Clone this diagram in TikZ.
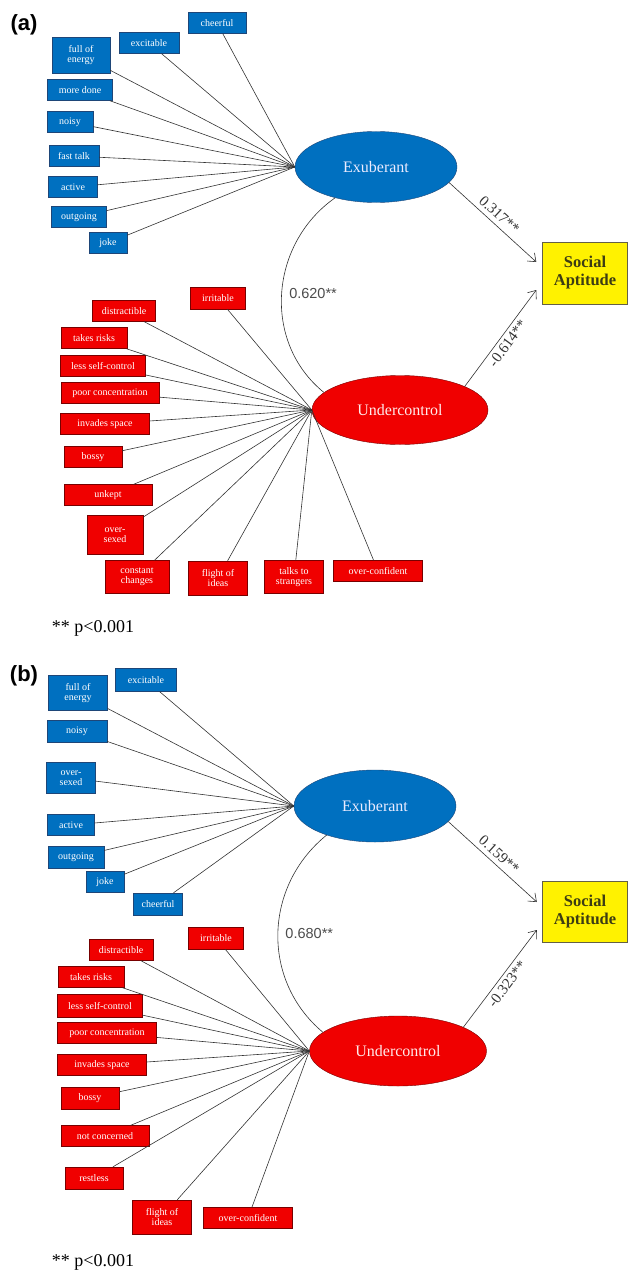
\documentclass[tikz,border=0pt]{standalone}
\usepackage{fontspec}
\setmainfont{Liberation Serif}
\newfontfamily\arialfont{Liberation Sans}
\usepackage{xcolor}
\usepackage{tikz}
\usetikzlibrary{shapes.geometric,arrows.meta}

\definecolor{exfill}{RGB}{0,112,192}
\definecolor{exline}{RGB}{30,70,120}
\definecolor{ucfill}{RGB}{240,0,0}
\definecolor{ucline}{RGB}{120,0,0}
\definecolor{satext}{RGB}{60,60,20}
\definecolor{linkgray}{RGB}{50,50,50}

\begin{document}
\begin{tikzpicture}[x=1pt, y=-1pt,
    exbox/.style={draw=exline, fill=exfill, text=white, font=\fontsize{10}{10.5}\selectfont, align=center, minimum height=21pt, inner sep=1pt},
    ucbox/.style={draw=ucline, fill=ucfill, text=white, font=\fontsize{10}{10.5}\selectfont, align=center, minimum height=21pt, inner sep=1pt},
    latent/.style={ellipse, draw, minimum width=162pt, minimum height=71pt, font=\fontsize{16}{18}\selectfont, inner sep=0pt},
    outcome/.style={draw=black!70!yellow, fill=yellow, text=satext, font=\fontsize{16.5}{18}\selectfont\bfseries, align=center, minimum width=85pt, minimum height=62pt},
    link/.style={draw=linkgray, line width=0.6pt},
    effect/.style={draw=linkgray, line width=0.6pt, -{Straight Barb[length=7pt,width=11pt]}},
    coef/.style={font=\fontsize{15}{16}\selectfont, text=black!80, inner sep=0.5pt},
    corr/.style={font=\arialfont\fontsize{14.5}{16}\selectfont, text=black!70},
    panel/.style={font=\arialfont\bfseries\fontsize{22}{24}\selectfont},
    note/.style={font=\fontsize{18}{20}\selectfont}]
    \useasboundingbox (0,0) rectangle (629,1276);

    % ---------------- Panel (a) ----------------
    \node[panel] (labA) at (24,25) {(a)};

    % Exuberant indicators
    \node[exbox, minimum width=58pt] (ea1) at (217,23) {cheerful};
    \node[exbox, minimum width=60pt] (ea2) at (149,43) {excitable};
    \node[exbox, minimum width=58pt, minimum height=36pt] (ea3) at (81,55) {full of\\energy};
    \node[exbox, minimum width=65pt] (ea4) at (80,90) {more done};
    \node[exbox, minimum width=46pt] (ea5) at (70,122) {noisy};
    \node[exbox, minimum width=50pt] (ea6) at (74,156) {fast talk};
    \node[exbox, minimum width=49pt] (ea7) at (73,187) {active};
    \node[exbox, minimum width=55pt] (ea8) at (79,217) {outgoing};
    \node[exbox, minimum width=38pt] (ea9) at (108,243) {joke};

    % Undercontrol indicators
    \node[ucbox, minimum width=55pt, minimum height=22pt] (ua1) at (218,298) {irritable};
    \node[ucbox, minimum width=63pt] (ua2) at (124,311) {distractible};
    \node[ucbox, minimum width=66pt] (ua3) at (94,338) {takes risks};
    \node[ucbox, minimum width=85pt] (ua4) at (103,366) {less self-control};
    \node[ucbox, minimum width=98pt] (ua5) at (110,393) {poor concentration};
    \node[ucbox, minimum width=89pt] (ua6) at (105,424) {invades space};
    \node[ucbox, minimum width=58pt] (ua7) at (93,457) {bossy};
    \node[ucbox, minimum width=88pt] (ua8) at (108,495) {unkept};
    \node[ucbox, minimum width=56pt, minimum height=39pt] (ua9) at (115,535) {over-\\sexed};
    \node[ucbox, minimum width=64pt, minimum height=33pt] (ua10) at (137,577) {constant\\changes};
    \node[ucbox, minimum width=59pt, minimum height=34pt] (ua11) at (218,578) {flight of\\ideas};
    \node[ucbox, minimum width=59pt, minimum height=33pt] (ua12) at (294,577) {talks to\\strangers};
    \node[ucbox, minimum width=89pt] (ua13) at (378,571) {over-confident};

    % Latent factors and outcome
    \node[latent, draw=exline, fill=exfill, text=blue!8] (exA) at (376,167) {Exuberant};
    \node[latent, draw=ucline, fill=ucfill, text=red!8, minimum width=176pt, minimum height=69pt] (ucA) at (400,410) {Undercontrol};
    \node[outcome] (saA) at (585,273) {Social\\Aptitude};

    % Loadings
    \draw[link] (ea1) -- (exA.west);
    \draw[link] (ea2) -- (exA.west);
    \draw[link] (ea3) -- (exA.west);
    \draw[link] (ea4) -- (exA.west);
    \draw[link] (ea5) -- (exA.west);
    \draw[link] (ea6) -- (exA.west);
    \draw[link] (ea7) -- (exA.west);
    \draw[link] (ea8) -- (exA.west);
    \draw[link] (ea9) -- (exA.west);
    \draw[link] (ua1) -- (ucA.west);
    \draw[link] (ua2) -- (ucA.west);
    \draw[link] (ua3) -- (ucA.west);
    \draw[link] (ua4) -- (ucA.west);
    \draw[link] (ua5) -- (ucA.west);
    \draw[link] (ua6) -- (ucA.west);
    \draw[link] (ua7) -- (ucA.west);
    \draw[link] (ua8) -- (ucA.west);
    \draw[link] (ua9) -- (ucA.west);
    \draw[link] (ua10) -- (ucA.west);
    \draw[link] (ua11) -- (ucA.west);
    \draw[link] (ua12) -- (ucA.west);
    \draw[link] (ua13) -- (ucA.west);

    % Correlation and paths
    \draw[link] (exA.217) to[out=215, in=141, looseness=1.05] node[corr, pos=0.5, right=4pt] (rA) {0.620**} (ucA.167);
    \draw[effect] (exA.-12) -- node[coef, sloped, above=4pt] (pA1) {0.317**} ([xshift=-6pt, yshift=11pt]saA.west);
    \draw[effect] (ucA.20) -- node[coef, sloped, below=3pt] (pA2) {-0.614**} ([xshift=-6pt, yshift=-17pt]saA.west);

    \node[note] (noteA) at (93,628) {** p<0.001};

    % ---------------- Panel (b) ----------------
    \node[panel] (labB) at (24,676) {(b)};

    % Exuberant indicators
    \node[exbox, minimum width=61pt, minimum height=23pt] (eb1) at (146,680) {excitable};
    \node[exbox, minimum width=59pt, minimum height=35pt] (eb2) at (78,693) {full of\\energy};
    \node[exbox, minimum width=60pt, minimum height=22pt] (eb3) at (77,731) {noisy};
    \node[exbox, minimum width=49pt, minimum height=31pt] (eb4) at (71,778) {over-\\sexed};
    \node[exbox, minimum width=47pt] (eb5) at (71,825) {active};
    \node[exbox, minimum width=56pt, minimum height=22pt] (eb6) at (76,857) {outgoing};
    \node[exbox, minimum width=38pt] (eb7) at (105,882) {joke};
    \node[exbox, minimum width=49pt, minimum height=22pt] (eb8) at (158,904) {cheerful};

    % Undercontrol indicators
    \node[ucbox, minimum width=55pt, minimum height=22pt] (ub1) at (216,938) {irritable};
    \node[ucbox, minimum width=64pt] (ub2) at (121,950) {distractible};
    \node[ucbox, minimum width=66pt] (ub3) at (91,977) {takes risks};
    \node[ucbox, minimum width=85pt, minimum height=23pt] (ub4) at (100,1006) {less self-control};
    \node[ucbox, minimum width=99pt] (ub5) at (107,1033) {poor concentration};
    \node[ucbox, minimum width=89pt] (ub6) at (102,1065) {invades space};
    \node[ucbox, minimum width=58pt, minimum height=22pt] (ub7) at (90,1098) {bossy};
    \node[ucbox, minimum width=88pt] (ub8) at (105,1136) {not concerned};
    \node[ucbox, minimum width=58pt, minimum height=22pt] (ub9) at (94,1178) {restless};
    \node[ucbox, minimum width=59pt, minimum height=34pt] (ub10) at (162,1217) {flight of\\ideas};
    \node[ucbox, minimum width=89pt] (ub11) at (248,1218) {over-confident};

    % Latent factors and outcome
    \node[latent, draw=exline, fill=exfill, text=blue!8, minimum height=72pt] (exB) at (375,806) {Exuberant};
    \node[latent, draw=ucline, fill=ucfill, text=red!8, minimum width=177pt, minimum height=70pt] (ucB) at (398,1051) {Undercontrol};
    \node[outcome, minimum height=61pt] (saB) at (585,912) {Social\\Aptitude};

    % Loadings
    \draw[link] (eb1) -- (exB.west);
    \draw[link] (eb2) -- (exB.west);
    \draw[link] (eb3) -- (exB.west);
    \draw[link] (eb4) -- (exB.west);
    \draw[link] (eb5) -- (exB.west);
    \draw[link] (eb6) -- (exB.west);
    \draw[link] (eb7) -- (exB.west);
    \draw[link] (eb8) -- (exB.west);
    \draw[link] (ub1) -- (ucB.west);
    \draw[link] (ub2) -- (ucB.west);
    \draw[link] (ub3) -- (ucB.west);
    \draw[link] (ub4) -- (ucB.west);
    \draw[link] (ub5) -- (ucB.west);
    \draw[link] (ub6) -- (ucB.west);
    \draw[link] (ub7) -- (ucB.west);
    \draw[link] (ub8) -- (ucB.west);
    \draw[link] (ub9) -- (ucB.west);
    \draw[link] (ub10) -- (ucB.west);
    \draw[link] (ub11) -- (ucB.west);

    % Correlation and paths
    \draw[link] (exB.211) to[out=219, in=140, looseness=1.05] node[corr, pos=0.5, right=4pt] (rB) {0.680**} (ucB.166);
    \draw[effect] (exB.-12) -- node[coef, sloped, above=4pt] (pB1) {0.159**} ([xshift=-5.5pt, yshift=10pt]saB.west);
    \draw[effect] (ucB.20) -- node[coef, sloped, below=3pt] (pB2) {-0.323**} ([xshift=-5.5pt, yshift=-18pt]saB.west);

    \node[note] (noteB) at (93,1262) {** p<0.001};
\end{tikzpicture}
\end{document}
